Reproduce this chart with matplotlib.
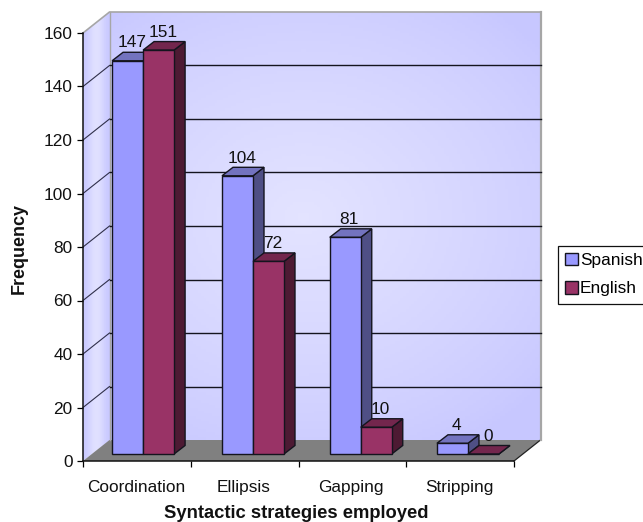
import numpy as np
import matplotlib
matplotlib.use("Agg")
import matplotlib.pyplot as plt
from matplotlib.patches import Polygon, Patch

categories = ["Coordination", "Ellipsis", "Gapping", "Stripping"]
spanish = [147, 104, 81, 4]
english = [151, 72, 10, 0]
y_ticks = [0, 20, 40, 60, 80, 100, 120, 140, 160]

plt.rcParams["font.family"] = ["Liberation Sans", "DejaVu Sans"]
FS = 12.4
W, H = 643, 522
L, R, T, B = 83, 514, 33, 461
fig = plt.figure(figsize=(W / 100, H / 100), dpi=100, facecolor="white")
ax = fig.add_axes([L / W, 1 - B / H, (R - L) / W, (B - T) / H])
ax.patch.set_visible(False)

xpx = (R - L) / 4
ypx = (B - T) / 160
WX, WY = 26.5 / xpx, 21 / ypx      # wall depth
BX, BY = 11 / xpx, 8.5 / ypx       # bar depth
BW = 31 / xpx                      # bar width
BASE = 7 / ypx                     # bar front sits on the floor
GROUP = [0.27, 0.29, 0.29, 0.285]  # left edge of a group inside its category
top_val = 160

LINE = "#14141e"
BLUE = ("#9999FF", "#7373BF", "#4F4F85")
RED = ("#993366", "#73264D", "#4D1A33")


def poly(pts, **kw):
    p = Polygon(pts, closed=True, clip_on=False, **kw)
    ax.add_patch(p)
    return p


def shade(x0, x1, y0, y1, rgb, clip):
    xe = np.linspace(x0, x1, rgb.shape[1] + 1)
    ye = np.linspace(y0, y1, rgb.shape[0] + 1)
    m = ax.pcolormesh(xe, ye, rgb, shading="flat", zorder=0.5, linewidth=0,
                      antialiased=False)
    m.set_clip_path(clip)
    m.set_clip_box(fig.bbox)
    return m


# back wall gradient
gx, gy = np.meshgrid(np.linspace(0, 1, 160), np.linspace(0, 1, 160))
d = np.clip(1 - np.hypot((gx - 0.45) / 0.72, (gy - 0.52) / 0.62), 0, 1) ** 0.8
c0, c1 = np.array([0.78, 0.78, 1.0]), np.array([0.89, 0.89, 1.0])
img = c0 + (c1 - c0)[None, None, :] * d[..., None]
back = poly([(WX, WY), (4 + WX, WY), (4 + WX, top_val + WY), (WX, top_val + WY)],
            facecolor="none", edgecolor="none")
shade(WX, 4 + WX, WY, top_val + WY, img, back)

# side wall gradient
s = np.exp(-((np.linspace(0, 1, 40) - 0.5) / 0.35) ** 2)[None, :, None]
c2, c3 = np.array([0.77, 0.77, 1.0]), np.array([0.88, 0.88, 1.0])
simg = np.repeat(c2[None, None, :] + (c3 - c2)[None, None, :] * s, 2, axis=0)
side = poly([(0, 0), (WX, WY), (WX, top_val + WY), (0, top_val)],
            facecolor="none", edgecolor="none")
shade(0, WX, 0, top_val + WY, simg, side)

ax.set_xlim(0, 4)
ax.set_ylim(0, 160)

# floor
poly([(0, 0), (4, 0), (4 + WX, WY), (WX, WY)], facecolor="#808080",
     edgecolor="none", zorder=0.8)
ax.plot([4, 4 + WX], [0, WY], color="#222222", lw=0.9, zorder=0.9, clip_on=False)

# wall edges
EDGE = "#A6A6A6"
ax.plot([0, WX, 4 + WX], [top_val, top_val + WY, top_val + WY],
        color=EDGE, lw=1.2, zorder=0.9, clip_on=False)
ax.plot([4 + WX, 4 + WX], [top_val + WY, WY], color=EDGE, lw=1.6, zorder=0.9, clip_on=False)
ax.plot([WX, WX], [WY, top_val + WY], color=EDGE, lw=1.0, zorder=0.9, clip_on=False)

# gridlines
for v in y_ticks[1:-1]:
    ax.plot([0, WX], [v, v + WY], color="#30304a", lw=0.8, zorder=1, clip_on=False)
    ax.plot([WX, 4 + WX], [v + WY, v + WY], color="#14141e", lw=1.0, zorder=1, clip_on=False)


def bar3d(x, v, cols, z):
    ax.bar(x, v, BW, bottom=BASE, align="edge", facecolor=cols[0], edgecolor=LINE,
           linewidth=1.0, zorder=z + 0.2, clip_on=False)
    y = BASE + v
    poly([(x, y), (x + BW, y), (x + BW + BX, y + BY), (x + BX, y + BY)],
         facecolor=cols[1], edgecolor=LINE, linewidth=1.0, zorder=z + 0.1)
    poly([(x + BW, BASE), (x + BW + BX, BASE + BY), (x + BW + BX, y + BY), (x + BW, y)],
         facecolor=cols[2], edgecolor=LINE, linewidth=1.0, zorder=z)
    ax.annotate(str(v), (x + BW / 2, y), xytext=(3.0, 12.8), textcoords="offset points",
                ha="center", va="center", fontsize=FS, color="#111111",
                zorder=10, annotation_clip=False)


for i in range(len(categories)):
    x0 = i + GROUP[i]
    bar3d(x0, spanish[i], BLUE, 3)
    bar3d(x0 + BW, english[i], RED, 4)

# axes
for sp in ("top", "right"):
    ax.spines[sp].set_visible(False)
for sp in ("left", "bottom"):
    ax.spines[sp].set_linewidth(1.1)
    ax.spines[sp].set_color("#111111")
    ax.spines[sp].set_zorder(6)

ax.set_yticks(y_ticks)
ax.tick_params(axis="y", length=4.4, width=0.9, pad=3, labelsize=FS, labelcolor="#111111")
ax.set_xticks(range(5))
ax.set_xticklabels([])
ax.set_xticks([i + 0.49 for i in range(4)], minor=True)
ax.set_xticklabels(categories, minor=True)
ax.tick_params(axis="x", which="major", length=4.4, width=0.9)
ax.tick_params(axis="x", which="minor", length=0, pad=13.5, labelsize=FS, labelcolor="#111111")

fig.text(296 / W, 1 - 513 / H, "Syntactic strategies employed", ha="center", va="center",
         fontsize=13.2, fontweight="bold", color="#111111")
fig.text(19.5 / W, 1 - 248 / H, "Frequency", ha="center", va="center", rotation=90,
         fontsize=13, fontweight="bold", color="#111111")

handles = [Patch(facecolor=BLUE[0], edgecolor=LINE, linewidth=1.0),
           Patch(facecolor=RED[0], edgecolor=LINE, linewidth=1.0)]
leg = fig.legend(handles, ["Spanish", "English"], loc="upper left",
                 bbox_to_anchor=(557.5 / W, 1 - 245.5 / H), borderaxespad=0,
                 fontsize=FS, frameon=True, fancybox=False, framealpha=1,
                 edgecolor="#111111", handlelength=0.75, handleheight=0.75,
                 handletextpad=0.12, borderpad=0.42, labelspacing=0.75)
leg.get_frame().set_linewidth(0.9)

fig.savefig("out.png", dpi=100)
